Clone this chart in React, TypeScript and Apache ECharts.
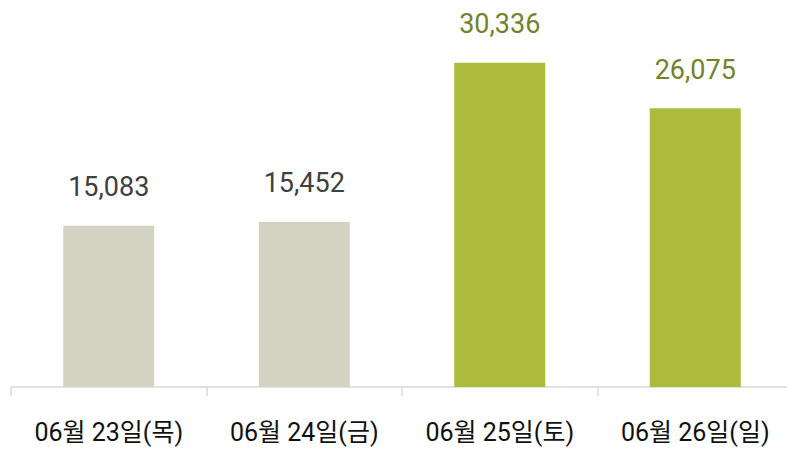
import React, { useEffect, useRef } from "react";
import * as echarts from "echarts";

const categories = ["06월 23일(목)", "06월 24일(금)", "06월 25일(토)", "06월 26일(일)"];
const values = [15083, 15452, 30336, 26075];
const barColors = ["#d3d3c3", "#d3d3c3", "#adbb3d", "#adbb3d"];
const labelColors = ["#404040", "#404040", "#74822a", "#74822a"];

export default function App() {
  const ref = useRef<HTMLDivElement>(null);
  useEffect(() => {
    if (!ref.current) return;
    const chart = echarts.init(ref.current, null, { renderer: "svg" });
    const font = "Roboto, 'Noto Sans CJK KR', sans-serif";
    chart.setOption({
      animation: false,
      grid: { left: 11, right: 2, top: 13, bottom: 62, containLabel: false },
      xAxis: {
        type: "category",
        data: categories,
        axisLine: { show: true, lineStyle: { color: "#d9d9d9", width: 1.5 } },
        axisTick: { show: true, length: 9, lineStyle: { color: "#d9d9d9", width: 1.5 } },
        axisLabel: { color: "#111111", fontSize: 25, fontFamily: font, margin: 33 },
      },
      yAxis: {
        type: "value",
        min: 0,
        max: 35000,
        show: false,
        splitLine: { show: false },
      },
      series: [
        {
          type: "bar",
          barWidth: 91,
          data: values.map((v, i) => ({
            value: v,
            itemStyle: { color: barColors[i] },
            label: { color: labelColors[i] },
          })),
          label: {
            show: true,
            position: "top",
            distance: 25,
            fontSize: 27,
            fontFamily: font,
            formatter: (p: any) => p.value.toLocaleString("en-US"),
          },
        },
      ],
    });
    return () => chart.dispose();
  }, []);
  return (
    <div style={{ position: "fixed", left: 0, top: 0, width: 787, height: 449, overflow: "hidden", background: "#fff" }}>
      <div ref={ref} style={{ width: 795, height: 449 }} />
    </div>
  );
}
